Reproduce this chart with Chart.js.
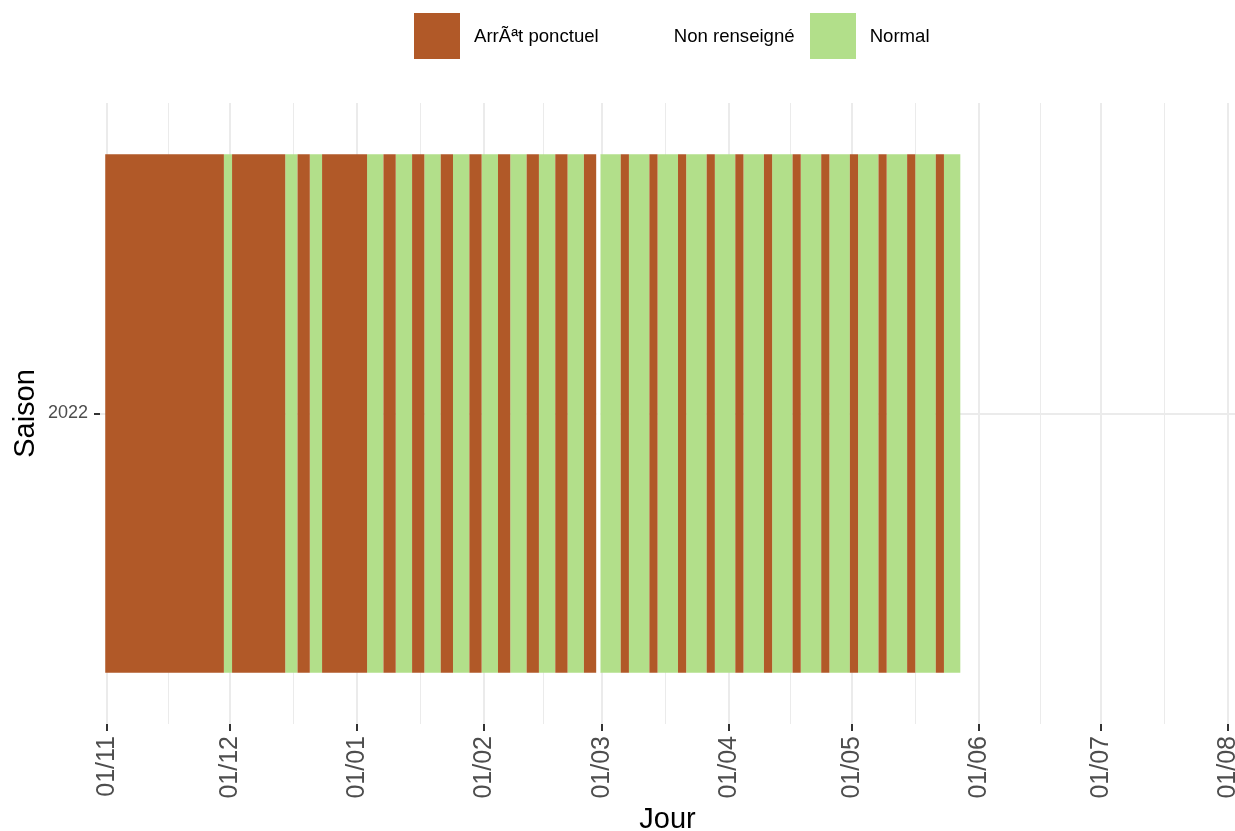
<!DOCTYPE html>
<html lang="fr">
<head>
<meta charset="utf-8">
<title>Saison 2022</title>
<script src="https://cdn.jsdelivr.net/npm/chart.js@4.4.1/dist/chart.umd.min.js"></script>
<style>
    html, body { margin: 0; padding: 0; background: #fff; overflow: hidden; }
    #cadre     { position: relative; width: 1235px; height: 831px; }
    #graphique { position: absolute; left: 0; top: 0; }
    #legende   { position: absolute; top: 13px; left: 414px; display: flex; align-items: center;
                 font-family: 'Liberation Sans', Arial, sans-serif; font-size: 18.6px; color: #000; }
    .item      { display: flex; align-items: center; margin-right: 15px; }
    .cle       { width: 46px; height: 46px; }
    .txt       { margin-left: 14px; white-space: nowrap; }
</style>
</head>
<body>
<div id="cadre">
    <canvas id="graphique" width="1235" height="831"></canvas>
    <div id="legende"></div>
</div>
<script>
// ===== DONNÉES =====
const saisons  = ['2022'];
const statuts  = ['ArrÃªt ponctuel', 'Non renseigné', 'Normal'];
const couleurs = ['#B15928', '#FFFFFF', '#B2DF8A'];

// jours comptés depuis le 01/11 (0 = 01/11), bornes incluses
const segDebut  = [0, 29, 31, 44, 47, 50, 53, 64, 68, 71,
                   75, 78, 82, 85, 89, 92, 96, 99, 103, 106,
                   110, 113, 117, 120, 121, 126, 128, 133, 135, 140,
                   142, 147, 149, 154, 156, 161, 163, 168, 170, 175,
                   177, 182, 184, 189, 191, 196, 198, 203, 205];
const segFin    = [28, 30, 43, 46, 49, 52, 63, 67, 70, 74,
                   77, 81, 84, 88, 91, 95, 98, 102, 105, 109,
                   112, 116, 119, 120, 125, 127, 132, 134, 139, 141,
                   146, 148, 153, 155, 160, 162, 167, 169, 174, 176,
                   181, 183, 188, 190, 195, 197, 202, 204, 208];
// index dans statuts
const segStatut = [0, 2, 0, 2, 0, 2, 0, 2, 0, 2,
                   0, 2, 0, 2, 0, 2, 0, 2, 0, 2,
                   0, 2, 0, 1, 2, 0, 2, 0, 2, 0,
                   2, 0, 2, 0, 2, 0, 2, 0, 2, 0,
                   2, 0, 2, 0, 2, 0, 2, 0, 2];

// graduations de l'axe des jours
const tickJours  = [0, 30, 61, 92, 121, 152, 182, 213, 243, 274];
const tickLabels = ['01/11', '01/12', '01/01', '01/02', '01/03', '01/04', '01/05', '01/06', '01/07', '01/08'];

// ===== HELPERS =====
const POLICE = "'Liberation Sans', Arial, sans-serif";

function graduations() {
    const liste = [];
    tickJours.forEach((v, i) => {
        liste.push({ value: v, majeur: true, idx: i });
        if (i < tickJours.length - 1) liste.push({ value: (v + tickJours[i + 1]) / 2, majeur: false });
    });
    return liste;
}

// ===== LÉGENDE =====
const legende = document.getElementById('legende');
statuts.forEach((nom, s) => {
    const item = document.createElement('div');
    item.className = 'item';
    item.innerHTML = `<div class="cle" style="background:${couleurs[s]}"></div><span class="txt"></span>`;
    item.querySelector('.txt').textContent = nom;
    legende.appendChild(item);
});

// ===== GRAPHIQUE =====
const datasets = statuts.map((nom, s) => ({
    label: nom,
    data: segDebut
        .map((d, i) => ({ x: [d - 0.5, segFin[i] + 0.5], y: saisons[0], s: segStatut[i] }))
        .filter(p => p.s === s),
    backgroundColor:    couleurs[s],
    borderWidth:        0,
    grouped:            false,
    barPercentage:      0.835,
    categoryPercentage: 1,
}));

new Chart(document.getElementById('graphique').getContext('2d'), {
    type: 'bar',
    data: { labels: saisons, datasets },
    options: {
        indexAxis: 'y',
        responsive: false,
        animation: false,
        layout: { padding: { top: 103, left: 0, right: 0, bottom: 0 } },
        plugins: { legend: { display: false }, tooltip: { enabled: false } },
        scales: {
            x: {
                type: 'linear',
                min: -1.78,
                max: 275.64,
                afterBuildTicks: axe => { axe.ticks = graduations(); },
                afterFit: axe => { axe.height = 107; axe.paddingLeft = 0; axe.paddingRight = 0; },
                grid: {
                    color:     '#EBEBEB',
                    lineWidth: c => (c.tick && c.tick.majeur ? 2 : 1),
                    tickColor: c => (c.tick && c.tick.majeur ? '#333333' : 'rgba(0,0,0,0)'),
                    tickLength: 7,
                    tickWidth:  2,
                },
                border: { display: false },
                ticks: {
                    autoSkip: false,
                    maxRotation: 90,
                    minRotation: 90,
                    padding: 5,
                    color: '#4D4D4D',
                    font: { family: POLICE, size: 25 },
                    callback: (v, i, t) => (t[i].majeur ? tickLabels[t[i].idx] : ''),
                },
                title: {
                    display: true,
                    text: 'Jour',
                    color: '#000',
                    font: { family: POLICE, size: 29, lineHeight: 0.9 },
                    padding: { top: 0, bottom: -2 },
                },
            },
            y: {
                type: 'category',
                offset: true,
                afterFit: axe => { axe.width = 100; },
                grid: {
                    offset: false,
                    color: '#EBEBEB',
                    lineWidth: 2,
                    tickColor: '#333333',
                    tickLength: 6,
                    tickWidth: 2,
                },
                border: { display: false },
                ticks: { padding: 6, color: '#4D4D4D', font: { family: POLICE, size: 18 } },
                title: {
                    display: true,
                    text: 'Saison',
                    color: '#000',
                    font: { family: POLICE, size: 29, lineHeight: 0.9 },
                    padding: { top: 13, bottom: 0 },
                },
            },
        },
    },
});
</script>
</body>
</html>
